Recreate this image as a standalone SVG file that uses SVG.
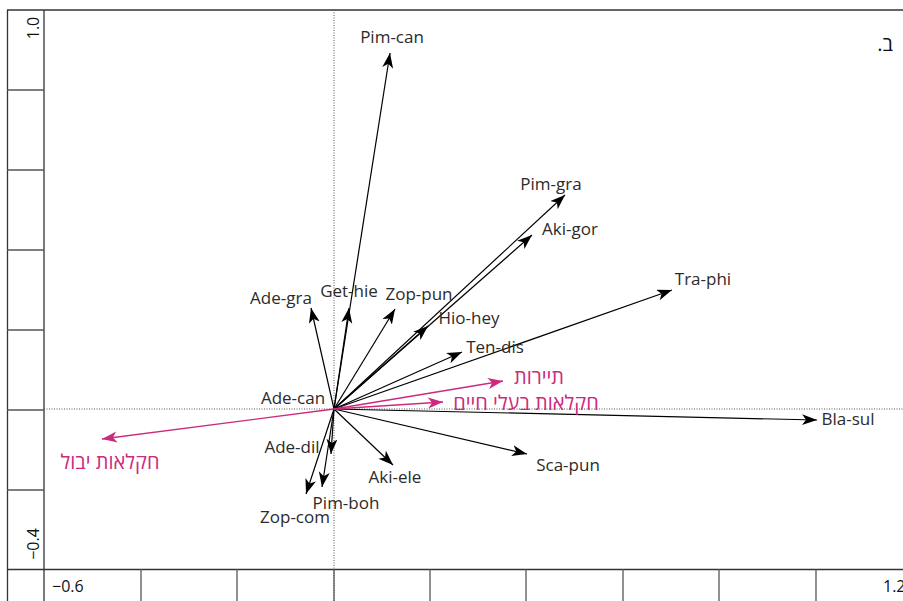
<svg xmlns="http://www.w3.org/2000/svg" width="903" height="601" viewBox="0 0 903 601">
<style>
.lbl{font-family:"Open Sans","DejaVu Sans","Noto Sans",sans-serif;font-size:17px;fill:#2b2b2b;text-anchor:middle}
.pk{fill:#cc2a7e;font-size:20px}
.ax{font-family:"Open Sans","DejaVu Sans",sans-serif;font-size:16px;fill:#111}
.v{stroke:#000;stroke-width:1.2;fill:none;marker-end:url(#ah)}
.vp{stroke:#cc2a7e;stroke-width:1.3;fill:none;marker-end:url(#ahp)}
.fr{stroke:#333;stroke-width:1.3;fill:none}
.tk{stroke:#555;stroke-width:1.3}
.dot{stroke:#555;stroke-width:1;stroke-dasharray:1 1.5;fill:none}
</style>
<defs>
<marker id="ah" markerUnits="userSpaceOnUse" markerWidth="16" markerHeight="12" refX="15" refY="5.5" orient="auto" viewBox="0 0 16 12">
<path d="M0,0 L15,5.5 L0,11 L4,5.5 Z" fill="#000"/>
</marker>
<marker id="ahp" markerUnits="userSpaceOnUse" markerWidth="16" markerHeight="12" refX="15" refY="5.5" orient="auto" viewBox="0 0 16 12">
<path d="M0,0 L15,5.5 L0,11 L4,5.5 Z" fill="#cc2a7e"/>
</marker>
</defs>
<rect width="903" height="601" fill="#fff"/>
<g id="axes">
<line class="fr" x1="7" y1="10" x2="903" y2="10" stroke="#666"/>
<line class="fr" x1="7.5" y1="10" x2="7.5" y2="601"/>
<line class="fr" x1="44" y1="10" x2="44" y2="601"/>
<line class="fr" x1="7" y1="569.5" x2="903" y2="569.5"/>
<g class="tk">
<line x1="7" y1="90" x2="44" y2="90"/>
<line x1="7" y1="170" x2="44" y2="170"/>
<line x1="7" y1="250" x2="44" y2="250"/>
<line x1="7" y1="330" x2="44" y2="330"/>
<line x1="7" y1="410" x2="44" y2="410"/>
<line x1="7" y1="490" x2="44" y2="490"/>
<line x1="141" y1="569" x2="141" y2="601"/>
<line x1="237" y1="569" x2="237" y2="601"/>
<line x1="334" y1="569" x2="334" y2="601"/>
<line x1="430" y1="569" x2="430" y2="601"/>
<line x1="526" y1="569" x2="526" y2="601"/>
<line x1="623" y1="569" x2="623" y2="601"/>
<line x1="719" y1="569" x2="719" y2="601"/>
<line x1="816" y1="569" x2="816" y2="601"/>
</g>
<line class="dot" x1="334" y1="10" x2="334" y2="601"/>
<line class="dot" x1="44" y1="409" x2="903" y2="409"/>
<text class="ax" text-anchor="middle" transform="translate(39,28) rotate(-90)">1.0</text>
<text class="ax" text-anchor="middle" transform="translate(39,544) rotate(-90)">−0.4</text>
<text class="ax" x="52" y="592">−0.6</text>
<text class="ax" x="883" y="592">1.2</text>
<text class="lbl" x="885" y="51" style="font-size:20px;fill:#111">.ב</text>
</g>
<g id="connectors">
<line class="v" x1="334" y1="409" x2="390" y2="53"/>
<line class="v" x1="334" y1="409" x2="565" y2="195"/>
<line class="v" x1="334" y1="409" x2="532" y2="235"/>
<line class="v" x1="334" y1="409" x2="672" y2="290"/>
<line class="v" x1="334" y1="409" x2="428" y2="326"/>
<line class="v" x1="334" y1="409" x2="395" y2="309"/>
<line class="v" x1="334" y1="409" x2="349" y2="308"/>
<line class="v" x1="334" y1="409" x2="311" y2="308"/>
<line class="v" x1="334" y1="409" x2="462" y2="352"/>
<line class="v" x1="334" y1="409" x2="817" y2="420"/>
<line class="v" x1="334" y1="409" x2="527" y2="454"/>
<line class="v" x1="334" y1="409" x2="393" y2="465"/>
<line class="v" x1="334" y1="409" x2="331" y2="454"/>
<line class="v" x1="334" y1="409" x2="322" y2="487"/>
<line class="v" x1="334" y1="409" x2="306" y2="494"/>
<line class="vp" x1="334" y1="409" x2="503" y2="381"/>
<line class="vp" x1="334" y1="409" x2="443" y2="402"/>
<line class="vp" x1="334" y1="409" x2="102" y2="439"/>
</g>
<g id="n-pim-can"><text class="lbl" x="392" y="43">Pim-can</text></g>
<g id="n-pim-gra"><text class="lbl" x="551" y="190">Pim-gra</text></g>
<g id="n-aki-gor"><text class="lbl" x="570" y="235">Aki-gor</text></g>
<g id="n-tra-phi"><text class="lbl" x="703" y="285">Tra-phi</text></g>
<g id="n-hio-hey"><text class="lbl" x="469" y="324">Hio-hey</text></g>
<g id="n-zop-pun"><text class="lbl" x="419" y="300">Zop-pun</text></g>
<g id="n-get-hie"><text class="lbl" x="349" y="297">Get-hie</text></g>
<g id="n-ade-gra"><text class="lbl" x="281" y="304">Ade-gra</text></g>
<g id="n-ten-dis"><text class="lbl" x="495" y="353">Ten-dis</text></g>
<g id="n-ade-can"><text class="lbl" x="293" y="404">Ade-can</text></g>
<g id="n-ade-dil"><text class="lbl" x="292" y="453">Ade-dil</text></g>
<g id="n-aki-ele"><text class="lbl" x="395" y="483">Aki-ele</text></g>
<g id="n-pim-boh"><text class="lbl" x="346" y="509">Pim-boh</text></g>
<g id="n-zop-com"><text class="lbl" x="295" y="523">Zop-com</text></g>
<g id="n-sca-pun"><text class="lbl" x="568" y="471">Sca-pun</text></g>
<g id="n-bla-sul"><text class="lbl" x="848" y="425">Bla-sul</text></g>
<g id="n-tourism"><text class="lbl pk" x="539" y="384">תיירות</text></g>
<g id="n-livestock"><text class="lbl pk" x="526" y="410">חקלאות בעלי חיים</text></g>
<g id="n-crops"><text class="lbl pk" x="110" y="469">חקלאות יבול</text></g>
</svg>
